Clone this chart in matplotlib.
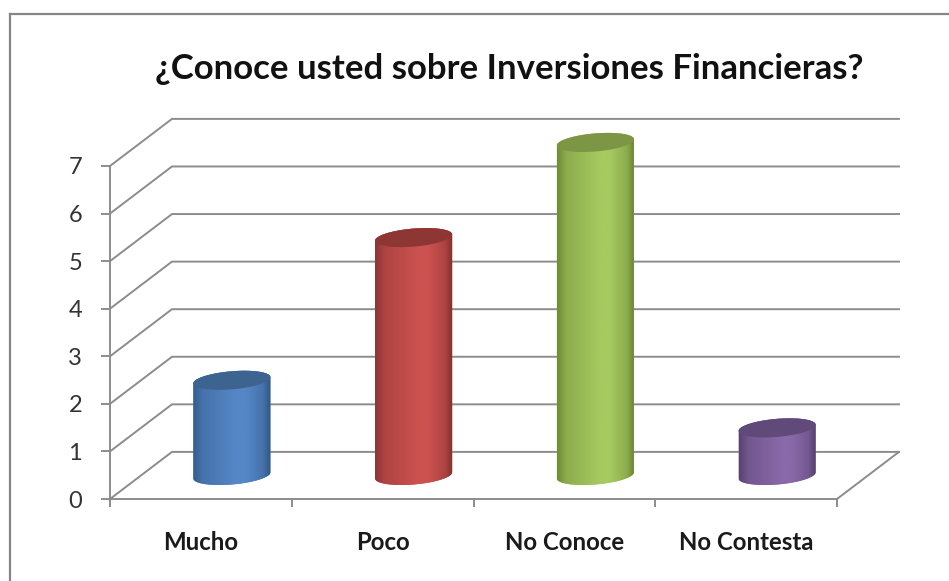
import numpy as np
import matplotlib
matplotlib.use("Agg")
import matplotlib.pyplot as plt
from matplotlib.lines import Line2D
from matplotlib.patches import Polygon

categories = ["Mucho", "Poco", "No Conoce", "No Contesta"]
values = [2, 5, 7, 1]
y_ticks = [0, 1, 2, 3, 4, 5, 6, 7]
chart_title = "¿Conoce usted sobre Inversiones Financieras?"

# colours per bar: edge of the shading, middle of the shading, top cap
edge_colors = ["#2f5583", "#7f2f2e", "#66802f", "#4f3c66"]
mid_colors = ["#5586c6", "#cc5250", "#a6ca60", "#8a69aa"]
cap_colors = ["#3d6391", "#8e3634", "#7c9645", "#5f4a79"]

W, H = 949, 581
GRID = "#8c8c8c"
DEPTH_X = 0.341   # wall offset in category units
DEPTH_Y = 0.99    # wall offset in value units


def hex_rgb(c):
    return np.array(matplotlib.colors.to_rgb(c))


def main():
    plt.rcParams["font.family"] = ["Lato", "DejaVu Sans"]
    fig = plt.figure(figsize=(W / 100, H / 100), dpi=100)
    ax = fig.add_axes([110 / W, (H - 499) / H, 727 / W, 333 / H])
    ax.set_xlim(0, len(categories))
    ax.set_ylim(0, 7)

    # chart frame, runs off the picture on the right and bottom
    fig.add_artist(Line2D([9.5 / W, 9.5 / W], [0, 1 - 13.5 / H], color="#868686", lw=1.6))
    fig.add_artist(Line2D([9.5 / W, 1], [1 - 13.5 / H, 1 - 13.5 / H], color="#868686", lw=1.6))

    # back wall and side wall lines
    for v in y_ticks:
        ax.plot([0, DEPTH_X, len(categories) + DEPTH_X], [v, v + DEPTH_Y, v + DEPTH_Y],
                color=GRID, lw=1.4, clip_on=False, zorder=1, solid_joinstyle="miter")
    ax.plot([len(categories), len(categories) + DEPTH_X], [0, DEPTH_Y],
            color=GRID, lw=1.4, clip_on=False, zorder=1)

    # cylinders
    a = 0.212
    b = 0.19
    k = 0.065
    t_front = np.linspace(np.pi, 2 * np.pi, 60)
    t_back = np.linspace(0, np.pi, 60)
    for i, v in enumerate(values):
        cx = i + 0.5 + DEPTH_X / 2
        base = DEPTH_Y / 2

        # body outline: front of the base, back of the top
        bx = cx + a * np.cos(t_front)
        by = base + b * np.sin(t_front) + k * np.cos(t_front)
        tx = cx + a * np.cos(t_back)
        ty = base + v + b * np.sin(t_back) + k * np.cos(t_back)
        body = Polygon(np.column_stack([np.r_[bx, tx], np.r_[by, ty]]), closed=True,
                       facecolor=mid_colors[i], edgecolor="none", clip_on=False, zorder=2)
        ax.add_patch(body)

        # shading across the cylinder
        pos = np.linspace(0, 1, 200)
        amount = np.interp(pos, [0, 0.12, 0.55, 0.68, 0.9, 1], [0.15, 0.6, 1, 1, 0.6, 0])
        rgb = hex_rgb(edge_colors[i]) + (hex_rgb(mid_colors[i]) - hex_rgb(edge_colors[i])) * amount[:, None]
        im = ax.imshow(rgb[None, :, :], extent=[cx - a, cx + a, base - b - k, base + v + b + k],
                       aspect="auto", interpolation="bilinear", zorder=3)
        # the bars rise above the axes box, so let the image use the whole figure
        im.set_clip_box(fig.bbox)
        im.set_clip_path(body)

        # top cap
        t_all = np.linspace(0, 2 * np.pi, 120)
        cap = Polygon(np.column_stack([cx + a * np.cos(t_all),
                                       base + v + b * np.sin(t_all) + k * np.cos(t_all)]),
                      closed=True, facecolor=cap_colors[i], edgecolor="none", clip_on=False, zorder=4)
        ax.add_patch(cap)

    ax.set_xlim(0, len(categories))
    ax.set_ylim(0, 7)

    for s in ["top", "right"]:
        ax.spines[s].set_visible(False)
    for s in ["left", "bottom"]:
        ax.spines[s].set_color(GRID)
        ax.spines[s].set_linewidth(1.4)
        ax.spines[s].set_zorder(5)

    ax.set_yticks(y_ticks)
    ax.tick_params(axis="y", length=6.5, width=1.4, color=GRID, labelsize=17, labelcolor="#333333", pad=13.5)
    ax.set_xticks(range(len(categories) + 1))
    ax.set_xticklabels([])
    ax.tick_params(axis="x", which="major", length=6, width=1.4, color=GRID)
    ax.set_xticks(np.arange(len(categories)) + 0.5, minor=True)
    ax.set_xticklabels(categories, minor=True, fontsize=17.3, fontweight="bold", color="#1a1a1a")
    ax.tick_params(axis="x", which="minor", length=0, pad=23)

    fig.text(509.5 / W, 1 - 69 / H, chart_title, ha="center", va="center",
             fontsize=25, fontweight="bold", color="#111111")

    fig.savefig("out.png", dpi=100)


if __name__ == "__main__":
    main()
